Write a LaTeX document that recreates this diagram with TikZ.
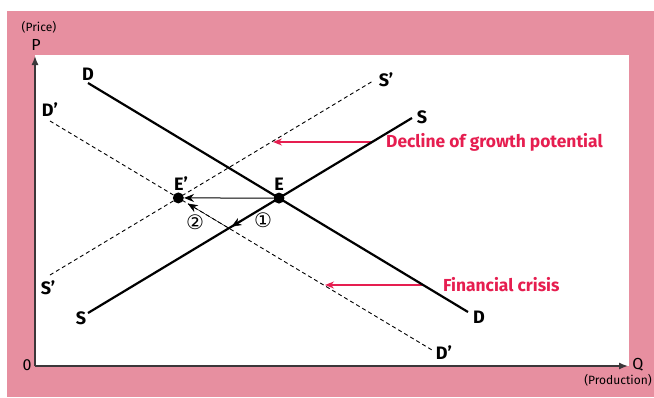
\documentclass[tikz,border=0pt]{standalone}
\usepackage{fontspec}
\setmainfont{Fira Sans}
\newfontfamily\circfont{DejaVu Sans}
\usetikzlibrary{arrows.meta}
\definecolor{bandpink}{RGB}{231,143,160}
\definecolor{notered}{RGB}{230,30,80}
\definecolor{axisgray}{RGB}{60,55,58}

\begin{document}
\begin{tikzpicture}[x=1pt,y=-1pt,
    curve/.style={line width=2.2pt},
    shifted/.style={line width=0.9pt,dash pattern=on 4pt off 3pt},
    lbl/.style={font=\fontsize{18}{18}\selectfont\bfseries,inner sep=0pt},
    notetext/.style={font=\fontsize{17.4}{17.4}\selectfont\bfseries,text=notered,anchor=west,inner sep=0pt},
    notearrow/.style={notered,line width=1.3pt,-{Stealth[length=9pt,width=7pt]}},
    movearrow/.style={-{Stealth[length=10pt,width=8pt]}},
    eqdot/.style={circle,fill=black,inner sep=0pt,minimum size=11pt},
    axislbl/.style={font=\fontsize{16}{16}\selectfont,inner sep=0pt},
    unitlbl/.style={font=\fontsize{12}{12}\selectfont,inner sep=0pt},
    steplbl/.style={font=\circfont\fontsize{20}{20}\selectfont,inner sep=0pt}]
    \useasboundingbox (0,0) rectangle (654,397);

    % frame
    \fill[bandpink] (7,11) rectangle (654,397);
    \fill[white] (35,55) rectangle (629,366);

    % axes
    \coordinate (O) at (35,366);
    \coordinate (ytop) at (35,56);
    \coordinate (xend) at (628,366);
    \draw[axisgray,line width=1.4pt,-{Latex[length=9pt,width=7pt]}] (O) -- (ytop);
    \draw[axisgray,line width=1.4pt,-{Latex[length=9pt,width=7pt]}] (O) -- (xend);
    \node[unitlbl] (price) at (39,27) {(Price)};
    \node[axislbl] (P) at (36,45) {P};
    \node[axislbl] (zero) at (27,365) {0};
    \node[axislbl] (Q) at (638,365) {Q};
    \node[unitlbl] (prod) at (618,380) {(Production)};

    % curve ends
    \coordinate (d1) at (88,83);   \coordinate (d2) at (468,312);
    \coordinate (s1) at (88,313);  \coordinate (s2) at (412,118);
    \coordinate (dd1) at (50,121); \coordinate (dd2) at (432,350);
    \coordinate (ss1) at (50,275); \coordinate (ss2) at (373,81);
    \coordinate (E) at (intersection of d1--d2 and s1--s2);
    \coordinate (Ep) at (intersection of dd1--dd2 and ss1--ss2);
    \coordinate (X) at (intersection of s1--s2 and dd1--dd2);

    % shifted curves
    \draw[shifted] (dd1) -- (dd2);
    \draw[shifted] (ss1) -- (ss2);

    % notes
    \node[notetext] (decl) at (386,142) {Decline of growth potential};
    \node[notetext] (fin) at (443,285) {Financial crisis};
    \coordinate (declTail) at (372,142); \coordinate (declTip) at (273,142);
    \coordinate (finTail) at (423,285);  \coordinate (finTip) at (325,285);
    \draw[notearrow] (declTail) -- (declTip);
    \draw[notearrow] (finTail) -- (finTip);

    % original curves
    \draw[curve] (d1) -- (d2);
    \draw[curve] (s1) -- (s2);

    % labels
    \node[lbl] (Dtop) at (88,74) {D};
    \node[lbl] (Dbot) at (479,317) {D};
    \node[lbl] (Stop) at (422,117) {S};
    \node[lbl] (Sbot) at (81,318) {S};
    \node[lbl] (Ddtop) at (50,110) {D’};
    \node[lbl] (Ddbot) at (444,353) {D’};
    \node[lbl] (Sstop) at (386,80) {S’};
    \node[lbl] (Ssbot) at (48,288) {S’};

    % equilibria
    \node[eqdot] (Edot) at (E) {};
    \node[eqdot] (Epdot) at (Ep) {};
    \node[lbl] (Elbl) at (279,184) {E};
    \node[lbl] (Eplbl) at (181,184) {E’};
    \draw[movearrow,line width=1pt] (Edot) -- (Epdot);
    \draw[movearrow,line width=0.5pt,shorten >=3pt] (E) -- (X);
    \draw[movearrow,line width=0.5pt,shorten >=11pt] (X) -- (Ep);
    \node[steplbl] (one) at (263,220) {①};
    \node[steplbl] (two) at (195,222) {②};
\end{tikzpicture}
\end{document}
